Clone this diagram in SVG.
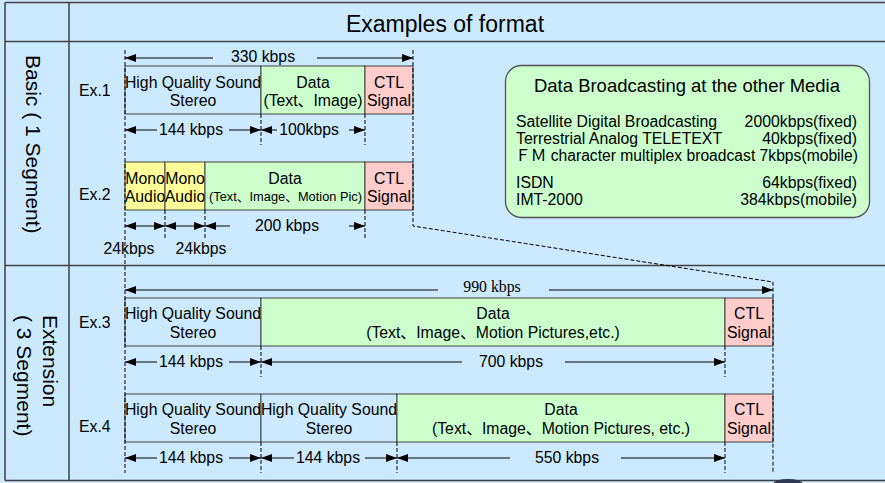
<svg xmlns="http://www.w3.org/2000/svg" width="885" height="483" viewBox="0 0 885 483">
<defs>
<style>
text{font-family:"Liberation Sans","Noto Sans CJK JP",sans-serif;font-size:15.8px;fill:#000}
.c{text-anchor:middle}
.e{text-anchor:end}
.serif{font-family:"Liberation Serif",serif}
.grid{stroke:#404040;stroke-width:1.5;fill:none}
.cell{stroke:#404040;stroke-width:1}
.blue{fill:#CCEAFF}
.green{fill:#CCFFCC}
.pink{fill:#FFCCCC}
.yellow{fill:#FFFF99}
.dim{stroke:#000;stroke-width:1;fill:none}
.ds{marker-start:url(#ah)}
.de{marker-end:url(#ah)}
.dash{stroke:#000;stroke-width:1;stroke-dasharray:4 2;fill:none}
</style>
<marker id="ah" viewBox="0 0 11 8" refX="11" refY="4" markerWidth="11" markerHeight="8" markerUnits="userSpaceOnUse" orient="auto-start-reverse">
<path d="M0,0 L11,4 L0,8 z" fill="#000"/>
</marker>
</defs>

<!-- page background and table frame -->
<rect x="0" y="0" width="885" height="483" fill="#CCEAFF"/>
<g id="table" class="grid">
<path d="M5,2.5 H885 M5,41.5 H885 M5,265.5 H885 M5,480.5 H885"/>
<path d="M5,2.5 V480.5 M69,2.5 V480.5"/>
</g>
<text id="header" class="c" x="445" y="32" style="font-size:23px">Examples of format</text>

<!-- row labels -->
<g id="row-basic">
<text transform="translate(26,55) rotate(90)" style="font-size:21px">Basic ( 1 Segment)</text>
</g>
<g id="row-extension">
<text transform="translate(43,315) rotate(90)" style="font-size:21px">Extension</text>
<text transform="translate(17,315) rotate(90)" style="font-size:21px">( 3 Segment)</text>
</g>

<!-- Ex.1 -->
<g id="ex1">
<text x="79" y="96">Ex.1</text>
<g id="ex1-sound"><rect class="blue cell" x="125" y="66" width="136" height="48"/>
<text class="c" x="193" y="88">High Quality Sound</text><text class="c" x="193" y="106">Stereo</text></g>
<g id="ex1-data"><rect class="green cell" x="261" y="66" width="104" height="48"/>
<text class="c" x="313" y="88">Data</text><text class="c" x="313" y="106">(Text、Image)</text></g>
<g id="ex1-ctl"><rect class="pink cell" x="365" y="66" width="48" height="48"/>
<text class="c" x="389" y="88">CTL</text><text class="c" x="389" y="106">Signal</text></g>
</g>

<!-- Ex.2 -->
<g id="ex2">
<text x="79" y="200">Ex.2</text>
<g id="ex2-mono1"><rect class="yellow cell" x="125" y="162" width="40" height="48"/>
<text class="c" x="145" y="184">Mono</text><text class="c" x="145" y="202">Audio</text></g>
<g id="ex2-mono2"><rect class="yellow cell" x="165" y="162" width="40" height="48"/>
<text class="c" x="185" y="184">Mono</text><text class="c" x="185" y="202">Audio</text></g>
<g id="ex2-data"><rect class="green cell" x="205" y="162" width="160" height="48"/>
<text class="c" x="285" y="184">Data</text>
<text x="209" y="201" textLength="153" lengthAdjust="spacingAndGlyphs" style="font-size:12.8px">(Text、Image、Motion Pic)</text></g>
<g id="ex2-ctl"><rect class="pink cell" x="365" y="162" width="48" height="48"/>
<text class="c" x="389" y="184">CTL</text><text class="c" x="389" y="202">Signal</text></g>
</g>

<!-- Ex.3 -->
<g id="ex3">
<text x="79" y="328">Ex.3</text>
<g id="ex3-sound"><rect class="blue cell" x="125" y="298" width="136" height="48"/>
<text class="c" x="193" y="319">High Quality Sound</text><text class="c" x="193" y="338">Stereo</text></g>
<g id="ex3-data"><rect class="green cell" x="261" y="298" width="464" height="48"/>
<text class="c" x="493" y="319">Data</text><text class="c" x="493" y="338">(Text、Image、Motion Pictures,etc.)</text></g>
<g id="ex3-ctl"><rect class="pink cell" x="725" y="298" width="48" height="48"/>
<text class="c" x="749" y="319">CTL</text><text class="c" x="749" y="338">Signal</text></g>
</g>

<!-- Ex.4 -->
<g id="ex4">
<text x="79" y="432">Ex.4</text>
<g id="ex4-sound1"><rect class="blue cell" x="125" y="394" width="136" height="48"/>
<text class="c" x="193" y="415">High Quality Sound</text><text class="c" x="193" y="434">Stereo</text></g>
<g id="ex4-sound2"><rect class="blue cell" x="261" y="394" width="136" height="48"/>
<text class="c" x="329" y="415">High Quality Sound</text><text class="c" x="329" y="434">Stereo</text></g>
<g id="ex4-data"><rect class="green cell" x="397" y="394" width="328" height="48"/>
<text class="c" x="561" y="415">Data</text><text class="c" x="561" y="434">(Text、Image、Motion Pictures, etc.)</text></g>
<g id="ex4-ctl"><rect class="pink cell" x="725" y="394" width="48" height="48"/>
<text class="c" x="749" y="415">CTL</text><text class="c" x="749" y="434">Signal</text></g>
</g>

<!-- reference box: other media -->
<g id="other-media">
<rect x="505.5" y="65.5" width="364" height="152" rx="16" fill="#CCFFCC" stroke="#505050" stroke-width="1.3"/>
<text class="c" x="687" y="92" textLength="306" lengthAdjust="spacingAndGlyphs" style="font-size:18.5px">Data Broadcasting at the other Media</text>
<text x="516" y="127">Satellite Digital Broadcasting</text><text class="e" x="857" y="127">2000kbps(fixed)</text>
<text x="516" y="144">Terrestrial Analog TELETEXT</text><text class="e" x="857" y="144">40kbps(fixed)</text>
<text x="515" y="161" textLength="343" lengthAdjust="spacingAndGlyphs">ＦＭ character multiplex broadcast 7kbps(mobile)</text>
<text x="516" y="188">ISDN</text><text class="e" x="857" y="188">64kbps(fixed)</text>
<text x="516" y="205">IMT-2000</text><text class="e" x="857" y="205">384kbps(mobile)</text>
</g>

<!-- dimension lines and extension guides -->
<g id="connectors">
<g class="dash">
<path d="M125,50 V473"/>
<path d="M413,50 V226 L773,282 V473"/>
<path d="M261,114 V145 M365,114 V145"/>
<path d="M165,210 V240 M205,210 V240 M365,210 V240"/>
<path d="M261,346 V377 M725,346 V377"/>
<path d="M261,442 V473 M397,442 V473 M725,442 V473"/>
</g>
<g class="dim">
<line class="ds" x1="125" y1="58" x2="213" y2="58"/><line class="de" x1="317" y1="58" x2="413" y2="58"/>
<line class="ds" x1="125" y1="130" x2="157" y2="130"/><line class="de" x1="229" y1="130" x2="261" y2="130"/>
<line class="ds" x1="261" y1="130" x2="277" y2="130"/><line class="de" x1="349" y1="130" x2="365" y2="130"/>
<line class="ds de" x1="125" y1="226" x2="165" y2="226"/>
<line class="ds de" x1="165" y1="226" x2="205" y2="226"/>
<line class="ds" x1="205" y1="226" x2="230" y2="226"/><line class="de" x1="349" y1="226" x2="365" y2="226"/>
<line class="ds" x1="125" y1="290" x2="438" y2="290"/><line class="de" x1="549" y1="290" x2="773" y2="290"/>
<line class="ds" x1="125" y1="362" x2="157" y2="362"/><line class="de" x1="229" y1="362" x2="261" y2="362"/>
<line class="ds" x1="261" y1="362" x2="462" y2="362"/><line class="de" x1="565" y1="362" x2="725" y2="362"/>
<line class="ds" x1="125" y1="458" x2="157" y2="458"/><line class="de" x1="229" y1="458" x2="261" y2="458"/>
<line class="ds" x1="261" y1="458" x2="294" y2="458"/><line class="de" x1="365" y1="458" x2="397" y2="458"/>
<line class="ds" x1="397" y1="458" x2="510" y2="458"/><line class="de" x1="621" y1="458" x2="725" y2="458"/>
</g>
<g id="dim-labels">
<text class="c" x="263" y="62">330 kbps</text>
<text class="c" x="191" y="135">144 kbps</text>
<text class="c" x="309" y="135">100kbps</text>
<text class="c" x="287" y="231">200 kbps</text>
<text class="c" x="129" y="254">24kbps</text>
<text class="c" x="201" y="254">24kbps</text>
<text class="c serif" x="492" y="292">990 kbps</text>
<text class="c" x="191" y="367">144 kbps</text>
<text class="c" x="511" y="367">700 kbps</text>
<text class="c" x="191" y="463">144 kbps</text>
<text class="c" x="328" y="463">144 kbps</text>
<text class="c" x="567" y="463">550 kbps</text>
</g>
</g>

<!-- dark shape peeking in at the lower edge -->
<ellipse cx="788" cy="484" rx="15" ry="5" fill="#2B3A55"/>
</svg>
